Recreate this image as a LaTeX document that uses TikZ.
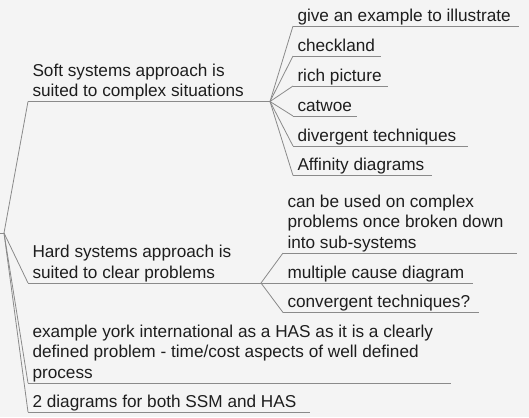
\documentclass[tikz,border=0pt]{standalone}
\usepackage{fontspec}
\setmainfont{Liberation Sans}
\definecolor{bgc}{HTML}{F4F4F4}
\definecolor{lnc}{HTML}{8A8A8A}
\definecolor{txc}{HTML}{1E1E1E}
\begin{document}
\begin{tikzpicture}[x=1bp,y=-1bp,
  topic/.style={anchor=south west, inner xsep=4.5bp, inner ysep=5bp, outer sep=0pt,
    text depth=0pt, align=left, text=txc, font=\fontsize{17.2bp}{20.4bp}\selectfont},
  link/.style={draw=lnc, line width=0.8bp}]
\fill[bgc] (0,0) rectangle (529,417);
\useasboundingbox (0,0) rectangle (529,417);

% root
\coordinate (stub) at (0,233);
\coordinate (root) at (4,233);

% main topics
\node[topic] (soft) at (28,101.5) {Soft systems approach is\\suited to complex situations};
\coordinate (softE) at (270,101.5);
\node[topic] (hard) at (28,283) {Hard systems approach is\\suited to clear problems};
\coordinate (hardE) at (261,283);
\node[topic] (york) at (28,383) {example york international as a HAS as it is a clearly\\defined problem - time/cost aspects of well defined\\process};
\coordinate (yorkE) at (451,383);
\node[topic] (two) at (28,412) {2 diagrams for both SSM and HAS};
\coordinate (twoE) at (310,412);

% soft children
\node[topic] (c1) at (293,26) {give an example to illustrate};
\coordinate (c1E) at (519,26);
\node[topic] (c2) at (293,56) {checkland};
\coordinate (c2E) at (381,56);
\node[topic] (c3) at (293,86) {rich picture};
\coordinate (c3E) at (388,86);
\node[topic] (c4) at (293,116) {catwoe};
\coordinate (c4E) at (357,116);
\node[topic] (c5) at (293,146) {divergent techniques};
\coordinate (c5E) at (468,146);
\node[topic] (c6) at (293,175.5) {Affinity diagrams};
\coordinate (c6E) at (432,175.5);

% hard children
\node[topic] (h1) at (283,253) {can be used on complex\\problems once broken down\\into sub-systems};
\coordinate (h1E) at (517,253);
\node[topic] (h2) at (283,283) {multiple cause diagram};
\coordinate (h2E) at (473,283);
\node[topic] (h3) at (283,312.5) {convergent techniques?};
\coordinate (h3E) at (479,312.5);

% underlines
\foreach \n in {soft,hard,york,two,c1,c2,c3,c4,c5,c6,h1,h2,h3}
  \draw[link] (\n.south west) -- (\n E);

% connectors
\draw[link] (stub) -- (root);
\foreach \n in {soft,hard,york,two}
  \draw[link] (root) -- (\n.south west);
\foreach \n in {c1,c2,c3,c4,c5,c6}
  \draw[link] (softE) -- (\n.south west);
\foreach \n in {h1,h2,h3}
  \draw[link] (hardE) -- (\n.south west);
\end{tikzpicture}
\end{document}
